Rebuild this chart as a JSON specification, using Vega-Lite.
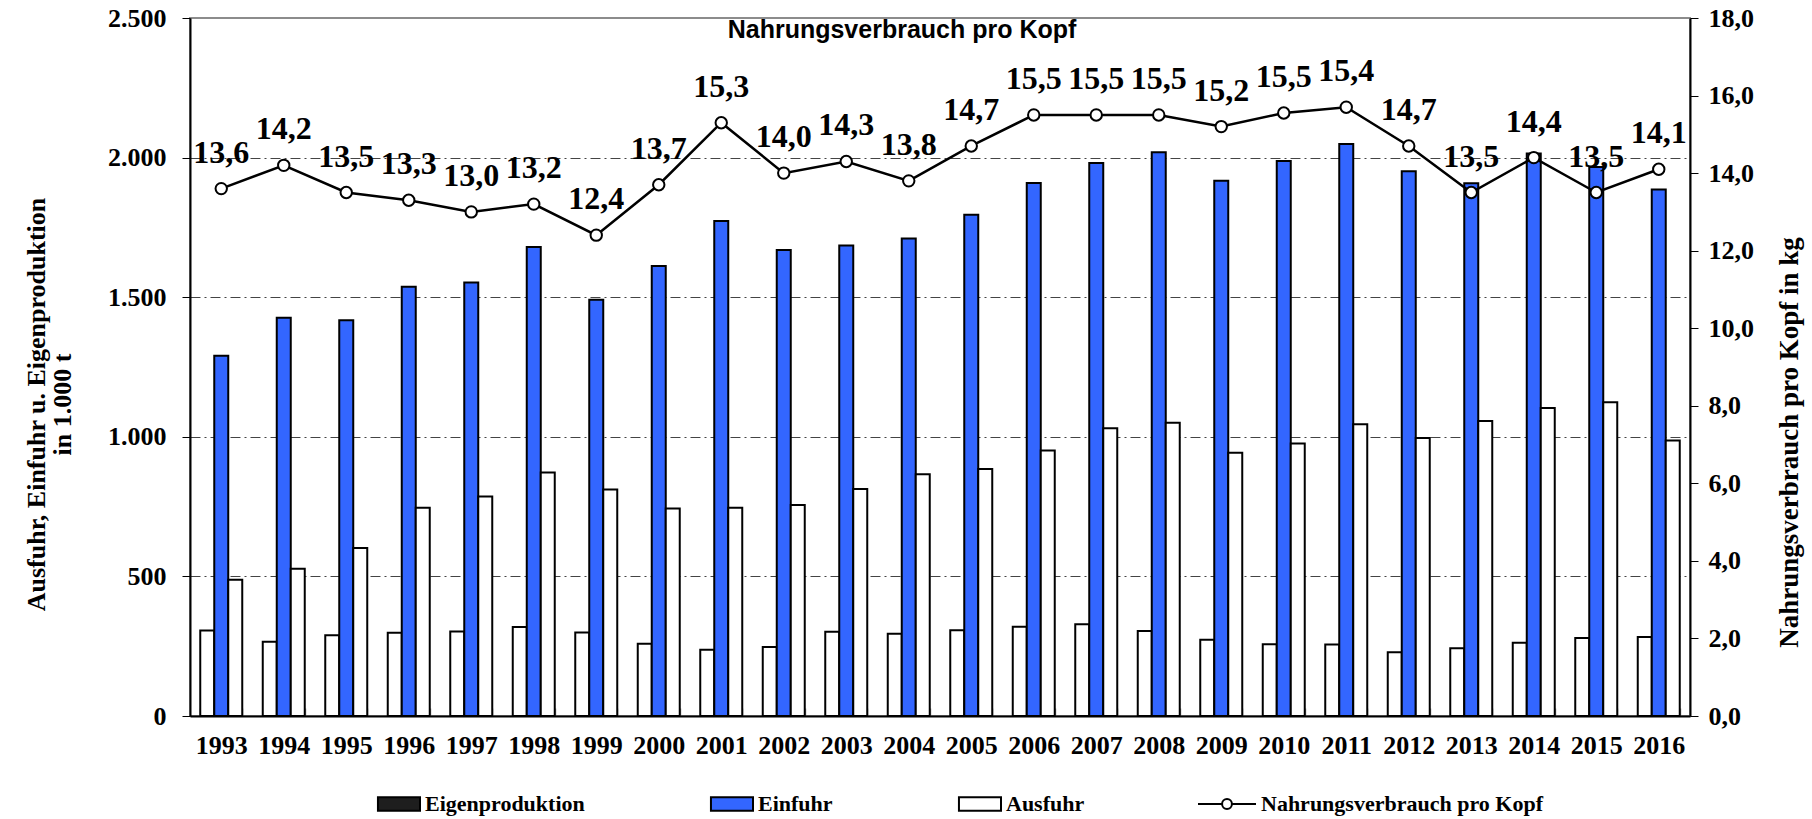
{
  "$schema": "https://vega.github.io/schema/vega-lite/v6.json",
  "width": 1500,
  "height": 698,
  "autosize": {"type": "none"},
  "padding": {"left": 190, "top": 18, "right": 122, "bottom": 103},
  "background": "white",
  "config": {
    "locale": {"number": {"decimal": ",", "thousands": ".", "grouping": [3], "currency": ["", " €"]}},
    "font": "Liberation Serif",
    "view": {"stroke": "#8c8c8c", "strokeWidth": 2},
    "axis": {"labelFont": "Liberation Serif", "labelFontWeight": "bold", "labelColor": "black", "titleFont": "Liberation Serif", "titleFontWeight": "bold", "titleColor": "black"},
    "legend": {
      "orient": "none", "legendX": 171, "legendY": 756, "direction": "horizontal", "title": null,
      "labelFont": "Liberation Serif", "labelFontWeight": "bold", "labelFontSize": 22, "labelColor": "black",
      "symbolSize": 3364, "symbolStrokeWidth": 2, "symbolOpacity": 1,
      "columnPadding": 109, "labelOffset": 4, "labelLimit": 400
    }
  },
  "title": {"text": "Nahrungsverbrauch pro Kopf", "font": "Liberation Sans", "fontSize": 25, "fontWeight": "bold", "anchor": "middle", "orient": "top", "offset": -20, "dx": -38, "dy": 38, "baseline": "alphabetic", "color": "black"},
  "datasets": {
    "bars": [
      {"year": "1993", "series": "Eigenproduktion", "t": 306}, {"year": "1993", "series": "Einfuhr", "t": 1290}, {"year": "1993", "series": "Ausfuhr", "t": 488},
      {"year": "1994", "series": "Eigenproduktion", "t": 266}, {"year": "1994", "series": "Einfuhr", "t": 1426}, {"year": "1994", "series": "Ausfuhr", "t": 527},
      {"year": "1995", "series": "Eigenproduktion", "t": 289}, {"year": "1995", "series": "Einfuhr", "t": 1417}, {"year": "1995", "series": "Ausfuhr", "t": 602},
      {"year": "1996", "series": "Eigenproduktion", "t": 298}, {"year": "1996", "series": "Einfuhr", "t": 1537}, {"year": "1996", "series": "Ausfuhr", "t": 746},
      {"year": "1997", "series": "Eigenproduktion", "t": 303}, {"year": "1997", "series": "Einfuhr", "t": 1553}, {"year": "1997", "series": "Ausfuhr", "t": 786},
      {"year": "1998", "series": "Eigenproduktion", "t": 319}, {"year": "1998", "series": "Einfuhr", "t": 1680}, {"year": "1998", "series": "Ausfuhr", "t": 872},
      {"year": "1999", "series": "Eigenproduktion", "t": 299}, {"year": "1999", "series": "Einfuhr", "t": 1491}, {"year": "1999", "series": "Ausfuhr", "t": 811},
      {"year": "2000", "series": "Eigenproduktion", "t": 259}, {"year": "2000", "series": "Einfuhr", "t": 1612}, {"year": "2000", "series": "Ausfuhr", "t": 743},
      {"year": "2001", "series": "Eigenproduktion", "t": 237}, {"year": "2001", "series": "Einfuhr", "t": 1773}, {"year": "2001", "series": "Ausfuhr", "t": 746},
      {"year": "2002", "series": "Eigenproduktion", "t": 247}, {"year": "2002", "series": "Einfuhr", "t": 1669}, {"year": "2002", "series": "Ausfuhr", "t": 756},
      {"year": "2003", "series": "Eigenproduktion", "t": 302}, {"year": "2003", "series": "Einfuhr", "t": 1685}, {"year": "2003", "series": "Ausfuhr", "t": 813},
      {"year": "2004", "series": "Eigenproduktion", "t": 295}, {"year": "2004", "series": "Einfuhr", "t": 1710}, {"year": "2004", "series": "Ausfuhr", "t": 866},
      {"year": "2005", "series": "Eigenproduktion", "t": 307}, {"year": "2005", "series": "Einfuhr", "t": 1795}, {"year": "2005", "series": "Ausfuhr", "t": 885},
      {"year": "2006", "series": "Eigenproduktion", "t": 320}, {"year": "2006", "series": "Einfuhr", "t": 1909}, {"year": "2006", "series": "Ausfuhr", "t": 951},
      {"year": "2007", "series": "Eigenproduktion", "t": 329}, {"year": "2007", "series": "Einfuhr", "t": 1981}, {"year": "2007", "series": "Ausfuhr", "t": 1031},
      {"year": "2008", "series": "Eigenproduktion", "t": 304}, {"year": "2008", "series": "Einfuhr", "t": 2019}, {"year": "2008", "series": "Ausfuhr", "t": 1050},
      {"year": "2009", "series": "Eigenproduktion", "t": 273}, {"year": "2009", "series": "Einfuhr", "t": 1917}, {"year": "2009", "series": "Ausfuhr", "t": 943},
      {"year": "2010", "series": "Eigenproduktion", "t": 257}, {"year": "2010", "series": "Einfuhr", "t": 1988}, {"year": "2010", "series": "Ausfuhr", "t": 976},
      {"year": "2011", "series": "Eigenproduktion", "t": 256}, {"year": "2011", "series": "Einfuhr", "t": 2049}, {"year": "2011", "series": "Ausfuhr", "t": 1045},
      {"year": "2012", "series": "Eigenproduktion", "t": 228}, {"year": "2012", "series": "Einfuhr", "t": 1951}, {"year": "2012", "series": "Ausfuhr", "t": 996},
      {"year": "2013", "series": "Eigenproduktion", "t": 243}, {"year": "2013", "series": "Einfuhr", "t": 1908}, {"year": "2013", "series": "Ausfuhr", "t": 1057},
      {"year": "2014", "series": "Eigenproduktion", "t": 262}, {"year": "2014", "series": "Einfuhr", "t": 2015}, {"year": "2014", "series": "Ausfuhr", "t": 1103},
      {"year": "2015", "series": "Eigenproduktion", "t": 279}, {"year": "2015", "series": "Einfuhr", "t": 1966}, {"year": "2015", "series": "Ausfuhr", "t": 1124},
      {"year": "2016", "series": "Eigenproduktion", "t": 283}, {"year": "2016", "series": "Einfuhr", "t": 1886}, {"year": "2016", "series": "Ausfuhr", "t": 987}
    ],
    "line": [
      {"year": "1993", "kg": 13.6, "label": "13,6"},
      {"year": "1994", "kg": 14.2, "label": "14,2"},
      {"year": "1995", "kg": 13.5, "label": "13,5"},
      {"year": "1996", "kg": 13.3, "label": "13,3"},
      {"year": "1997", "kg": 13.0, "label": "13,0"},
      {"year": "1998", "kg": 13.2, "label": "13,2"},
      {"year": "1999", "kg": 12.4, "label": "12,4"},
      {"year": "2000", "kg": 13.7, "label": "13,7"},
      {"year": "2001", "kg": 15.3, "label": "15,3"},
      {"year": "2002", "kg": 14.0, "label": "14,0"},
      {"year": "2003", "kg": 14.3, "label": "14,3"},
      {"year": "2004", "kg": 13.8, "label": "13,8"},
      {"year": "2005", "kg": 14.7, "label": "14,7"},
      {"year": "2006", "kg": 15.5, "label": "15,5"},
      {"year": "2007", "kg": 15.5, "label": "15,5"},
      {"year": "2008", "kg": 15.5, "label": "15,5"},
      {"year": "2009", "kg": 15.2, "label": "15,2"},
      {"year": "2010", "kg": 15.55, "label": "15,5"},
      {"year": "2011", "kg": 15.7, "label": "15,4"},
      {"year": "2012", "kg": 14.7, "label": "14,7"},
      {"year": "2013", "kg": 13.5, "label": "13,5"},
      {"year": "2014", "kg": 14.4, "label": "14,4"},
      {"year": "2015", "kg": 13.5, "label": "13,5"},
      {"year": "2016", "kg": 14.1, "label": "14,1"}
    ]
  },
  "layer": [
    {
      "data": {"name": "bars"},
      "encoding": {
        "x": {
          "field": "year", "type": "ordinal",
          "scale": {"paddingInner": 0.328, "paddingOuter": 0.164},
          "axis": {"title": null, "labelAngle": 0, "labelFontSize": 26, "tickBand": "extent", "tickSize": -8, "tickColor": "#999999", "tickWidth": 1.5, "labelPadding": 24, "domainColor": "black", "domainWidth": 2, "grid": false}
        },
        "y": {
          "field": "t", "type": "quantitative",
          "scale": {"domain": [0, 2500], "nice": false},
          "axis": {
            "title": ["Ausfuhr, Einfuhr u. Eigenproduktion", "in 1.000 t"],
            "values": [0, 500, 1000, 1500, 2000, 2500], "format": ",d",
            "grid": true, "gridDash": [10, 4, 2, 4], "gridWidth": 1,
            "gridColor": {"condition": {"test": "datum.value >= 2500 || datum.value <= 0", "value": "transparent"}, "value": "#444444"},
            "tickSize": 8, "tickColor": "black", "domainColor": "black", "domainWidth": 2,
            "labelFontSize": 26, "labelPadding": 16,
            "titleFontSize": 26, "titleAngle": -90, "titleX": -154, "titleY": 386, "titleBaseline": "middle", "titleAlign": "center", "titleLineHeight": 26
          }
        }
      },
      "layer": [
        {
          "mark": {"type": "bar", "stroke": "black", "strokeWidth": 2},
          "encoding": {
            "xOffset": {"field": "series", "type": "nominal", "scale": {"domain": ["Eigenproduktion", "Einfuhr", "Ausfuhr"], "paddingInner": 0, "paddingOuter": 0}},
            "color": {
              "field": "series", "type": "nominal",
              "scale": {"domain": ["Eigenproduktion", "Einfuhr", "Ausfuhr"], "range": ["white", "#3366ff", "white"]},
              "legend": null
            }
          }
        },
        {
          "mark": {"type": "point", "filled": true, "opacity": 0, "strokeWidth": 2},
          "encoding": {
            "fill": {
              "field": "series", "type": "nominal",
              "scale": {"domain": ["Eigenproduktion", "Einfuhr", "Ausfuhr", "Nahrungsverbrauch pro Kopf"], "range": ["#1e1e1e", "#3366ff", "white", "white"]},
              "legend": {}
            },
            "stroke": {
              "field": "series", "type": "nominal",
              "scale": {"domain": ["Eigenproduktion", "Einfuhr", "Ausfuhr", "Nahrungsverbrauch pro Kopf"], "range": ["black", "black", "black", "black"]},
              "legend": {}
            },
            "shape": {
              "field": "series", "type": "nominal",
              "scale": {"domain": ["Eigenproduktion", "Einfuhr", "Ausfuhr", "Nahrungsverbrauch pro Kopf"], "range": ["M-0.45,-0.23H1V0.23H-0.45Z", "M-0.45,-0.23H1V0.23H-0.45Z", "M-0.45,-0.23H1V0.23H-0.45Z", "M-1,0H-0.17M0.17,0H1M-0.17,0A0.17,0.17 0 1,1 0.17,0A0.17,0.17 0 1,1 -0.17,0"]},
              "legend": {}
            }
          }
        }
      ]
    },
    {
      "data": {"name": "line"},
      "encoding": {
        "x": {"field": "year", "type": "ordinal"},
        "y": {
          "field": "kg", "type": "quantitative",
          "scale": {"domain": [0, 18], "nice": false},
          "axis": {
            "orient": "right", "title": "Nahrungsverbrauch pro Kopf in kg",
            "values": [0, 2, 4, 6, 8, 10, 12, 14, 16, 18], "format": ".1f",
            "grid": false, "tickSize": 8, "tickColor": "black", "domainColor": "black", "domainWidth": 2,
            "labelFontSize": 26, "labelPadding": 10,
            "titleFontSize": 27, "titleAngle": -90, "titleX": 99, "titleY": 424, "titleBaseline": "middle", "titleAlign": "center"
          }
        }
      },
      "layer": [
        {"mark": {"type": "line", "stroke": "black", "strokeWidth": 2.5}},
        {"mark": {"type": "point", "filled": true, "fill": "white", "stroke": "black", "strokeWidth": 2, "size": 130, "opacity": 1}},
        {"mark": {"type": "text", "font": "Liberation Serif", "fontWeight": "bold", "fontSize": 32, "dy": -26, "baseline": "alphabetic", "align": "center", "color": "black"}, "encoding": {"text": {"field": "label"}}}
      ]
    }
  ],
  "resolve": {"scale": {"y": "independent"}}
}
